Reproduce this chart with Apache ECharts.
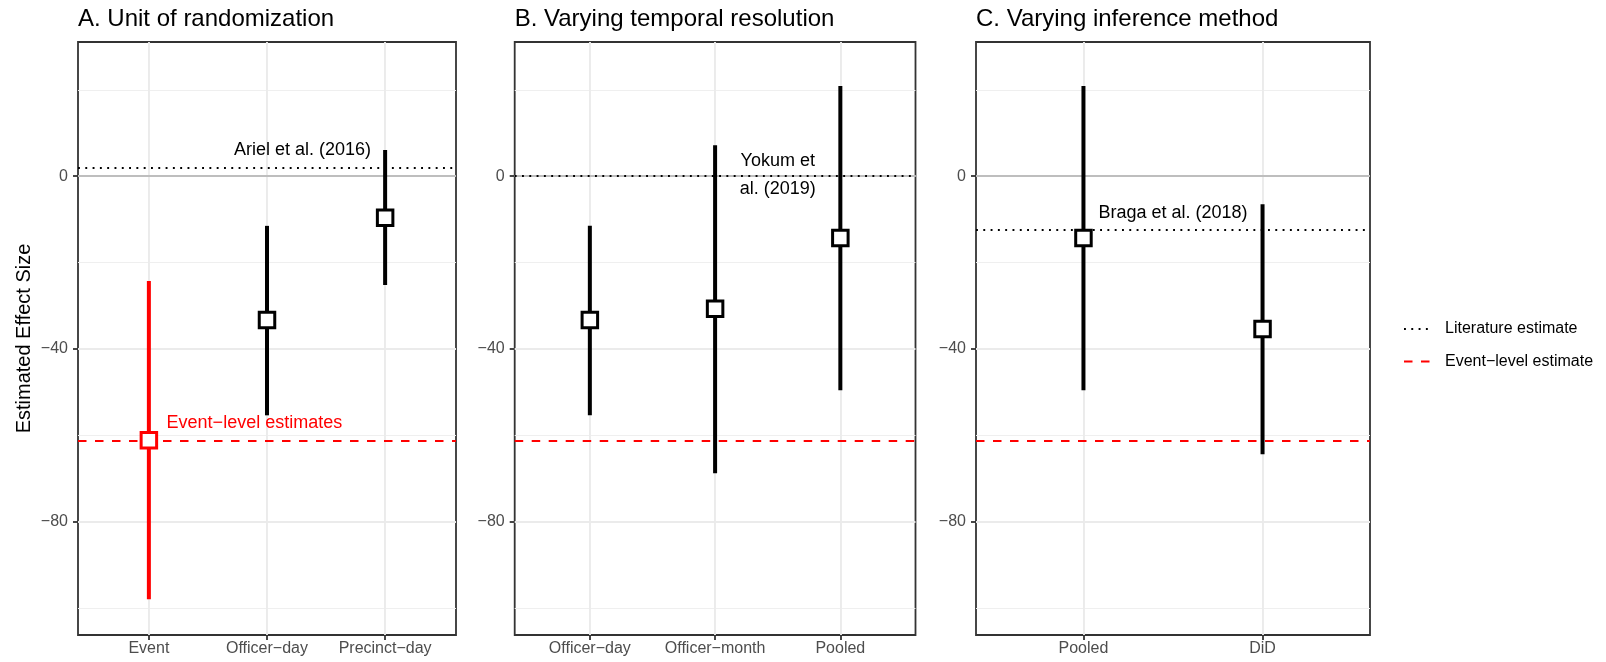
<!DOCTYPE html>
<html><head><meta charset="utf-8">
<script src="https://cdn.jsdelivr.net/npm/echarts@6/dist/echarts.min.js"></script>
<style>html,body{margin:0;padding:0;background:#fff}#c{width:1606px;height:662px}</style>
</head><body><div id="c"></div>
<script>
// ---- data ----
const panelTitles = ['A. Unit of randomization', 'B. Varying temporal resolution', 'C. Varying inference method'];
const catsA = ['Event', 'Officer−day', 'Precinct−day'];
const estA = [-61.2, -33.3, -9.6];
const loA = [-98.0, -55.4, -25.2];
const hiA = [-24.3, -11.5, 6.1];
const catsB = ['Officer−day', 'Officer−month', 'Pooled'];
const estB = [-33.3, -30.7, -14.3];
const loB = [-55.4, -68.8, -49.6];
const hiB = [-11.5, 7.2, 20.9];
const catsC = ['Pooled', 'DiD'];
const estC = [-14.3, -35.4];
const loC = [-49.6, -64.4];
const hiC = [20.9, -6.5];
const literatureValues = [2.0, 0.0, -12.5];
const literatureLabels = ['Ariel et al. (2016)', 'Yokum et\nal. (2019)', 'Braga et al. (2018)'];
const eventLevelValue = -61.2;
const eventLevelLabel = 'Event−level estimates';
const yLabelTicks = [-80, -40, 0];
const yMinorTicks = [-100, -60, -20, 20];
const legendNames = ['Literature estimate', 'Event−level estimate'];
const yAxisTitle = 'Estimated Effect Size';

// ---- layout ----
const FONT = '"Liberation Sans", Arial, sans-serif';
const panels = [
  {cats: catsA, est: estA, lo: loA, hi: hiA, left: 78, width: 378},
  {cats: catsB, est: estB, lo: loB, hi: hiB, left: 514.7, width: 400.8},
  {cats: catsC, est: estC, lo: loC, hi: hiC, left: 976, width: 394}
];
const TOP = 42, HEIGHT = 593;
const YMIN = -106.3, YMAX = 31.1;
const fmtNum = v => v < 0 ? '−' + Math.abs(v) : String(v);

const grid = [], xAxis = [], yAxis = [], series = [], title = [];
panels.forEach((p, i) => {
  const idx = p.cats.map((c, k) => k + 1);
  grid.push({left: p.left, top: TOP, width: p.width, height: HEIGHT, show: true,
    borderColor: '#333333', borderWidth: 1.8, backgroundColor: '#fff'});
  title.push({text: panelTitles[i], left: p.left, top: 7, padding: 0,
    textStyle: {fontFamily: FONT, fontSize: 24, fontWeight: 'normal', color: '#000'}});
  xAxis.push({type: 'value', gridIndex: i, min: 0.4, max: p.cats.length + 0.6,
    axisLine: {show: false, onZero: false}, splitLine: {show: false},
    axisTick: {show: true, customValues: idx, length: 5, lineStyle: {color: '#333333', width: 1.8}},
    axisLabel: {customValues: idx, formatter: v => p.cats[Math.round(v) - 1], fontFamily: FONT,
      fontSize: 16, color: '#4D4D4D', margin: 6}});
  yAxis.push({type: 'value', gridIndex: i, min: YMIN, max: YMAX,
    axisLine: {show: false, onZero: false}, splitLine: {show: false},
    axisTick: {show: true, customValues: yLabelTicks, length: 5, lineStyle: {color: '#333333', width: 1.8}},
    axisLabel: {customValues: yLabelTicks, formatter: fmtNum, fontFamily: FONT,
      fontSize: 16, color: '#4D4D4D', margin: 10}});
  // grid lines
  const gl = [];
  yLabelTicks.forEach(v => gl.push({yAxis: v, lineStyle: {color: '#EBEBEB', width: 1.9, type: 'solid'}}));
  yMinorTicks.forEach(v => gl.push({yAxis: v, lineStyle: {color: '#EFEFEF', width: 1.1, type: 'solid'}}));
  idx.forEach(v => gl.push({xAxis: v, lineStyle: {color: '#EBEBEB', width: 1.9, type: 'solid'}}));
  series.push({type: 'line', name: '_grid', xAxisIndex: i, yAxisIndex: i, data: [], z: 1, silent: true,
    markLine: {z: 1, symbol: 'none', silent: true, animation: false, label: {show: false}, data: gl}});
  // zero reference line
  series.push({type: 'line', name: '_zero', xAxisIndex: i, yAxisIndex: i, data: [], z: 2, silent: true,
    markLine: {z: 2, symbol: 'none', silent: true, animation: false, label: {show: false},
      data: [{yAxis: 0, lineStyle: {color: '#BEBEBE', width: 2, type: 'solid'}}]}});
  // literature estimate
  const litStyle = {color: '#000', width: 1.8, type: [1.9, 5.4]};
  series.push({type: 'line', name: legendNames[0], xAxisIndex: i, yAxisIndex: i, data: [], z: 3,
    symbol: 'none', lineStyle: litStyle, itemStyle: {color: '#000'},
    markLine: {z: 3, symbol: 'none', silent: true, animation: false, label: {show: false},
      data: [{yAxis: literatureValues[i], lineStyle: litStyle}]}});
  // event-level estimate
  const evStyle = {color: '#FF0000', width: 2, type: [8.5, 8.5]};
  series.push({type: 'line', name: legendNames[1], xAxisIndex: i, yAxisIndex: i, data: [], z: 3,
    symbol: 'none', lineStyle: evStyle, itemStyle: {color: '#FF0000'},
    markLine: {z: 3, symbol: 'none', silent: true, animation: false, label: {show: false},
      data: [{yAxis: eventLevelValue, lineStyle: evStyle}]}});
  const colorOf = c => c === 'Event' ? '#FF0000' : '#000000';
  // error bars
  series.push({type: 'custom', name: '_err' + i, xAxisIndex: i, yAxisIndex: i, z: 6,
    data: p.cats.map((c, k) => [k + 1, p.lo[k], p.hi[k]]),
    renderItem: (params, api) => {
      const a = api.coord([api.value(0), api.value(1)]);
      const b = api.coord([api.value(0), api.value(2)]);
      return {type: 'line', shape: {x1: a[0], y1: a[1], x2: b[0], y2: b[1]},
        style: {stroke: colorOf(p.cats[params.dataIndex]), lineWidth: 4, fill: null}};
    }});
  // point estimates
  series.push({type: 'scatter', name: '_pt' + i, xAxisIndex: i, yAxisIndex: i, z: 7,
    symbol: 'rect', symbolSize: 15.5,
    data: p.cats.map((c, k) => ({value: [k + 1, p.est[k]],
      itemStyle: {color: '#fff', borderColor: colorOf(c), borderWidth: 3, opacity: 1}}))});
});

const chart = echarts.init(document.getElementById('c'), null, {renderer: 'canvas'});
chart.setOption({
  animation: false,
  backgroundColor: '#fff',
  title, grid, xAxis, yAxis, series,
  legend: {data: legendNames, orient: 'vertical', left: 1403, top: 321, padding: 0,
    itemWidth: 27, itemHeight: 16, itemGap: 16.5, selectedMode: false,
    itemStyle: {opacity: 0},
    textStyle: {fontFamily: FONT, fontSize: 16, color: '#000', padding: [0, 0, 0, 9]}}
});

// annotations positioned through the axes
const annots = [
  {grid: 0, x: 2.3, y: literatureValues[0] + 4, text: literatureLabels[0], color: '#000', align: 'center'},
  {grid: 1, x: 2.5, y: literatureValues[1] + 0.3, text: literatureLabels[1], color: '#000', align: 'center'},
  {grid: 2, x: 1.5, y: literatureValues[2] + 4, text: literatureLabels[2], color: '#000', align: 'center'},
  {grid: 0, x: 1.15, y: eventLevelValue + 4, text: eventLevelLabel, color: '#FF0000', align: 'left'}
];
const graphics = annots.map(a => {
  const pt = chart.convertToPixel({gridIndex: a.grid}, [a.x, a.y]);
  return {type: 'text', x: pt[0], y: pt[1], z: 10,
    style: {text: a.text, fill: a.color, font: '18px ' + FONT, align: a.align,
      verticalAlign: 'middle', lineHeight: 28}};
});
graphics.push({type: 'text', x: 24, y: TOP + HEIGHT / 2, rotation: Math.PI / 2,
  style: {text: yAxisTitle, fill: '#000', font: '20px ' + FONT, align: 'center', verticalAlign: 'middle'}});
chart.setOption({graphic: graphics});
</script></body></html>
